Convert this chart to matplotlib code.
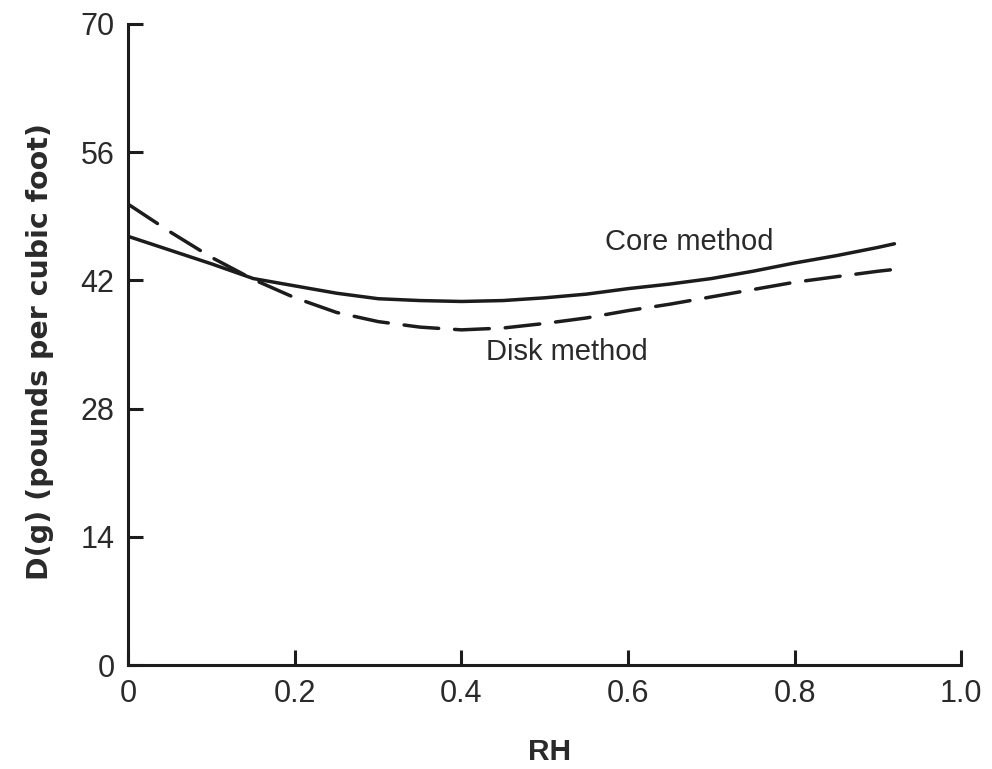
import matplotlib
matplotlib.use("Agg")
import matplotlib.pyplot as plt

plt.rcParams['font.family'] = ['Liberation Sans', 'DejaVu Sans']

# Relative humidity (fraction)
rh = [0.0, 0.05, 0.10, 0.15, 0.20, 0.25, 0.30, 0.35, 0.40, 0.45,
      0.50, 0.55, 0.60, 0.65, 0.70, 0.75, 0.80, 0.85, 0.90, 0.92]

# D(g), pounds per cubic foot
core_method = [46.8, 45.3, 43.8, 42.2, 41.4, 40.6, 40.0, 39.8, 39.7, 39.8,
               40.1, 40.5, 41.1, 41.6, 42.2, 43.0, 43.9, 44.7, 45.6, 46.0]
disk_method = [50.3, 47.3, 44.5, 42.1, 40.1, 38.5, 37.5, 36.9, 36.6, 36.8,
               37.3, 37.9, 38.7, 39.4, 40.2, 41.0, 41.8, 42.4, 43.0, 43.2]

x_ticks = [0, 0.2, 0.4, 0.6, 0.8, 1.0]
x_tick_labels = ["0", "0.2", "0.4", "0.6", "0.8", "1.0"]
y_ticks = [0, 14, 28, 42, 56, 70]
y_tick_labels = ["0", "14", "28", "42", "56", "70"]

ink = "#1c1c1c"
text_ink = "#2a2a2a"

fig = plt.figure(figsize=(9.92, 7.69), dpi=100)
ax = fig.add_axes([0.1295, 0.1352, 0.9688 - 0.1295, 0.9688 - 0.1352])

ax.plot(rh, core_method, color=ink, lw=2.5, solid_capstyle='round',
        solid_joinstyle='round')
dashed, = ax.plot(rh, disk_method, color=ink, lw=2.5, dash_capstyle='round',
                  dash_joinstyle='round')
dashed.set_dashes((10, 4.6))

ax.set_xlim(0, 1.0)
ax.set_ylim(0, 70)

for side in ("top", "right"):
    ax.spines[side].set_visible(False)
for side in ("left", "bottom"):
    ax.spines[side].set_linewidth(2.2)
    ax.spines[side].set_color(ink)

ax.set_xticks(x_ticks)
ax.set_xticklabels(x_tick_labels)
ax.set_yticks(y_ticks)
ax.set_yticklabels(y_tick_labels)
ax.tick_params(axis='both', direction='in', length=11, width=2.2, color=ink,
               labelsize=22, labelcolor=text_ink, pad=10)

ax.text(0.674, 46.2, "Core method", fontsize=21, color=text_ink,
        ha='center', va='center')
ax.text(0.527, 34.2, "Disk method", fontsize=21, color=text_ink,
        ha='center', va='center')

fig.text(550 / 992, 1 - 752 / 769, "RH", fontsize=21.5, fontweight='bold',
         color=text_ink, ha='center', va='center')
fig.text(40 / 992, 1 - 351 / 769, "D(g) (pounds per cubic foot)",
         fontsize=20.5, fontweight='bold', family=['DejaVu Sans'],
         color=text_ink, ha='center', va='center', rotation=90)

fig.savefig("out.png", dpi=100, facecolor="white")
